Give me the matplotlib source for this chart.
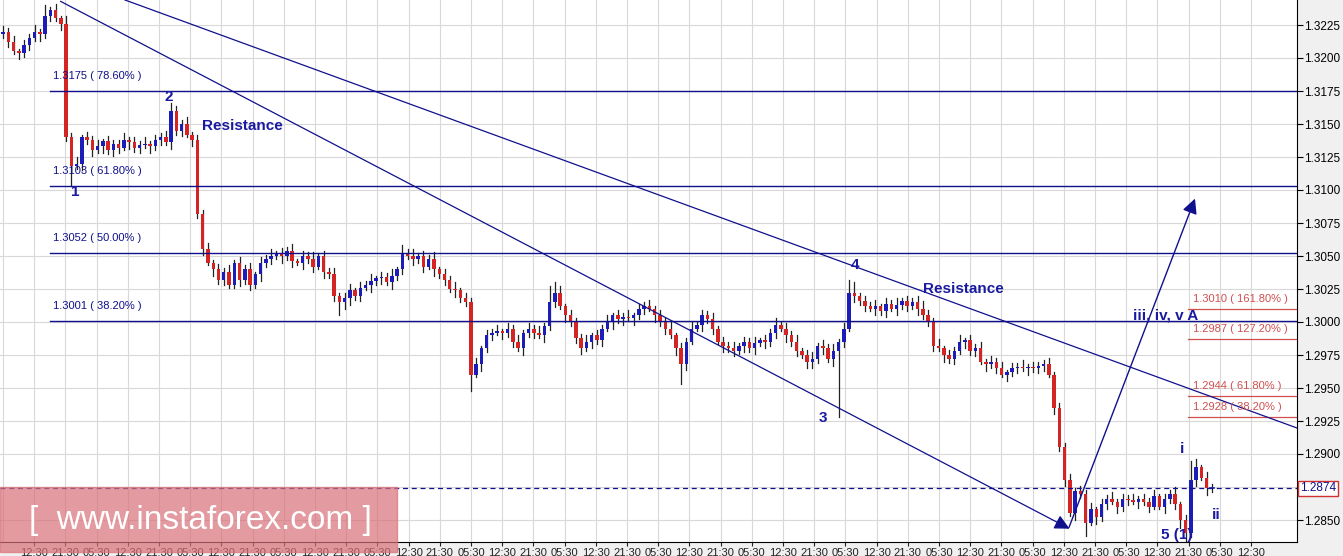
import matplotlib
matplotlib.use("Agg")
import matplotlib.pyplot as plt
from matplotlib.patches import Rectangle, FancyArrowPatch

plt.rcParams['font.family'] = ['Liberation Sans', 'DejaVu Sans']

# closes in pips above 1.2800
closes = [420,412,405,404,410,415,420,418,432,436,430,426,
          340,318,320,340,338,330,
          333,337,330,335,332,338,336,332,334,335,333,338,340,336,
          360,345,350,342,338,
          282,255,245,240,232,238,228,245,232,240,228,236,245,248,250,252,250,254,246,245,250,248,242,250,238,236,
          220,215,218,224,220,226,228,231,233,234,230,235,240,252,250,248,250,242,248,240,236,232,225,224,218,215,
          160,168,180,190,192,193,192,195,185,180,192,195,192,190,197,
          215,222,212,205,200,188,180,185,190,186,195,200,205,202,204,203,205,210,212,210,205,200,195,190,180,168,
          185,195,198,205,202,195,185,182,180,178,182,185,180,184,186,185,192,198,195,190,185,178,175,170,172,182,180,172,178,185,195,
          222,220,216,212,210,212,208,214,210,213,216,212,215,210,205,200,182,180,175,172,178,185,186,178,180,170,168,170,165,160,162,165,166,165,166,165,167,168,160,
          135,105,80,55,72,70,48,58,52,62,66,64,60,66,65,64,66,64,60,68,60,66,70,62,50,40,80,90,82,74,74]
first_open = 418
wick_up_str = ("4352435243524352435243" "3524352435243524352435" "2435243524352435243524" "5243524352435243524352"
               "4352435243524352435243" "3524352435243524352435" "2435243524352435243524" "5243524352435243524352"
               "4352435243524352435243" "3524352435243524352435" "2435243524352435243524" "5243524352435243524352")
wick_dn_str = ("3425342534253425342534" "4253425342534253425342" "2534253425342534253425" "5342534253425342534253"
               "3425342534253425342534" "4253425342534253425342" "2534253425342534253425" "5342534253425342534253"
               "3425342534253425342534" "4253425342534253425342" "2534253425342534253425" "5342534253425342534253")
wick_up_big = {8: 8, 12: 6, 32: 6, 76: 6, 104: 12, 105: 8, 161: 10, 162: 8, 175: 6, 226: 15, 227: 6}
wick_dn_big = {13: 15, 64: 10, 89: 12, 129: 15, 159: 50, 206: 10, 224: 6, 225: 8}

fib_left = [1.3175, 1.3103, 1.3052, 1.3001]
fib_left_lbl = ["1.3175 ( 78.60% )", "1.3103 ( 61.80% )", "1.3052 ( 50.00% )", "1.3001 ( 38.20% )"]
fib_right = [1.3010, 1.2987, 1.2944, 1.2928]
fib_right_lbl = ["1.3010 ( 161.80% )", "1.2987 ( 127.20% )", "1.2944 ( 61.80% )", "1.2928 ( 38.20% )"]
last_price = 1.2874
yticks = [1.2850, 1.2875, 1.2900, 1.2925, 1.2950, 1.2975, 1.3000, 1.3025, 1.3050,
          1.3075, 1.3100, 1.3125, 1.3150, 1.3175, 1.3200, 1.3225]
xlabels_cycle = ["12:30", "21:30", "05:30"]

# pixel helpers (layout only)
SP = 5.256
def X(px): return (px - 3) / SP
def Y(py): return 1.3225 - (py - 25) / 13200.0

W, H = 1343, 556
fig = plt.figure(figsize=(W/100, H/100), dpi=100, facecolor='#f0f0f0')
ax = fig.add_axes([0, 14/H, 1297/W, 542/H])
ax.set_facecolor('white')
ax.set_xlim(X(0), X(1297))
ax.set_ylim(Y(542), Y(0))

# grid
for p in yticks:
    ax.axhline(p, color='#d8d8d8', lw=0.8, zorder=0)
xt_px = [3 + 31.2 * k for k in range(0, 41)]
xt_px = [v for v in xt_px if v < 1290]
for v in xt_px:
    ax.axvline(X(v), color='#d8d8d8', lw=0.8, zorder=0)

# candles
n = len(closes)
opens = [first_open] + closes[:-1]
for i in range(n):
    o = 1.28 + opens[i] / 10000
    c = 1.28 + closes[i] / 10000
    hi = max(o, c) + wick_up_big.get(i, int(wick_up_str[i])) / 10000
    lo = min(o, c) - wick_dn_big.get(i, int(wick_dn_str[i])) / 10000
    col = '#1c1cb8' if c >= o else '#d42424'
    ax.plot([i, i], [lo, hi], color='#222222', lw=0.9, zorder=2)
    b = abs(c - o)
    if b < 0.00008:
        ax.plot([i - 0.35, i + 0.35], [c, c], color=col, lw=1.2, zorder=3)
    else:
        ax.add_patch(Rectangle((i - 0.33, min(o, c)), 0.66, b, color=col, zorder=3, lw=0))

navy = '#10108c'
for p, lab in zip(fib_left, fib_left_lbl):
    ax.plot([X(50), X(1297)], [p, p], color=navy, lw=1.0, zorder=4)
    ax.text(X(53), p + 10 / 13200, lab, color=navy, fontsize=8, va='bottom', ha='left', zorder=5)
for p, lab in zip(fib_right, fib_right_lbl):
    ax.plot([X(1188), X(1297)], [p, p], color='#d05050', lw=0.9, zorder=4)
    ax.text(X(1193), p + 5 / 13200, lab, color='#d05050', fontsize=8, va='bottom', ha='left', zorder=5)

ax.axhline(last_price, color=navy, lw=0.9, ls=(0, (4, 3)), zorder=4)

# trend lines
ax.plot([X(125), X(1297)], [Y(0), Y(428)], color=navy, lw=0.9, zorder=4)
ax.add_patch(FancyArrowPatch((X(58), Y(0)), (X(1072), Y(530)), arrowstyle='-|>,head_length=6,head_width=3',
                             color=navy, lw=0.9, mutation_scale=1.5, zorder=5))
ax.add_patch(FancyArrowPatch((X(1068), Y(530)), (X(1196), Y(196)), arrowstyle='-|>,head_length=6,head_width=3',
                             color=navy, lw=1.0, mutation_scale=1.5, zorder=5))

lbl = dict(color='#1a1aa0', fontsize=11, fontweight='bold', zorder=6)
ax.text(X(75), Y(192), "1", ha='center', va='center', **lbl)
ax.text(X(169), Y(97), "2", ha='center', va='center', **lbl)
ax.text(X(202), Y(126), "Resistance", ha='left', va='center', **lbl)
ax.text(X(823), Y(418), "3", ha='center', va='center', **lbl)
ax.text(X(855), Y(265), "4", ha='center', va='center', **lbl)
ax.text(X(923), Y(289), "Resistance", ha='left', va='center', **lbl)
ax.text(X(1133), Y(316), "iii, iv, v A", ha='left', va='center', **lbl)
ax.text(X(1182), Y(449), "i", ha='center', va='center', **lbl)
ax.text(X(1216), Y(515), "ii", ha='center', va='center', **lbl)
ax.text(X(1177), Y(535), "5 (1)", ha='center', va='center', **lbl)

# axes styling
for s in ['top', 'left']:
    ax.spines[s].set_visible(False)
ax.spines['right'].set_color('black')
ax.spines['bottom'].set_color('black')
ax.yaxis.tick_right()
ax.set_yticks(yticks[:1] + yticks[2:])
ax.set_yticklabels([f"{v:.4f}" for v in yticks[:1] + yticks[2:]], fontsize=8.5)
ax.tick_params(axis='y', length=4, pad=1)
lab_px = xt_px[1:]
ax.set_xticks([X(v) for v in lab_px])
ax.set_xticklabels([xlabels_cycle[k % 3] for k in range(len(lab_px))], fontsize=8)
ax.tick_params(axis='x', length=3, pad=1, colors='#222222')

# last price box
ax.text(X(1300), last_price, "1.2874", color=navy, fontsize=8.5, va='center', ha='left',
        bbox=dict(boxstyle='square,pad=0.15', fc='white', ec='#d03030', lw=1), zorder=7, clip_on=False)

# watermark
fig.patches.append(Rectangle((0, (556 - 552) / H), 397 / W, 65 / H, transform=fig.transFigure,
                             color='#d87078', alpha=0.7, zorder=10))
fig.text(200 / W, (556 - 520) / H, "[  www.instaforex.com ]", color='white', fontsize=24,
         ha='center', va='center', zorder=11)

fig.savefig("out.png", dpi=100, facecolor=fig.get_facecolor())
